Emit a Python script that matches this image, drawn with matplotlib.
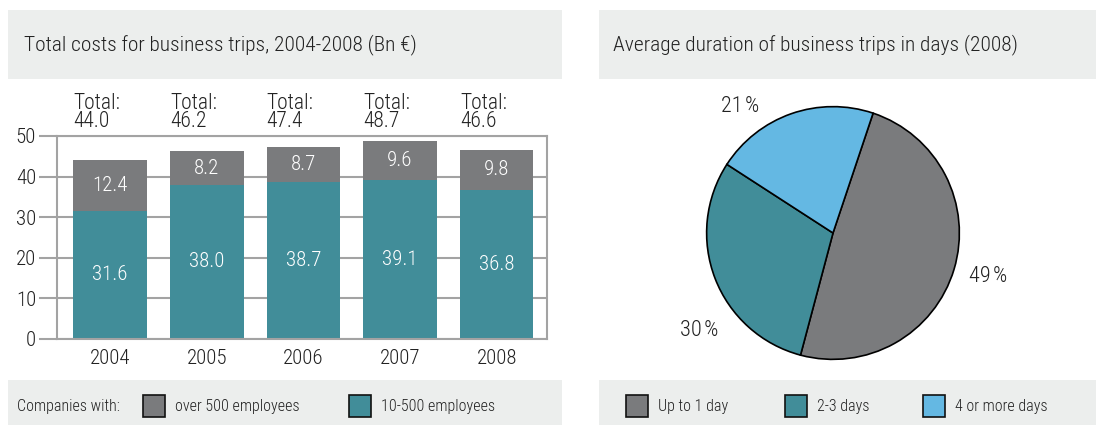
import matplotlib
matplotlib.use("Agg")
import matplotlib.pyplot as plt
from matplotlib import font_manager
from matplotlib.patches import Rectangle

# fonts: prefer a narrow sans, like the original
names = {f.name for f in font_manager.fontManager.ttflist}
for fam in ["Roboto Condensed", "Liberation Sans Narrow", "Roboto", "Liberation Sans"]:
    if fam in names:
        plt.rcParams["font.family"] = [fam, "DejaVu Sans"]
        break
plt.rcParams["font.weight"] = "light"

# data
years = ["2004", "2005", "2006", "2007", "2008"]
small_firms = [31.6, 38.0, 38.7, 39.1, 36.8]   # 10-500 employees
large_firms = [12.4, 8.2, 8.7, 9.6, 9.8]       # over 500 employees
totals = [44.0, 46.2, 47.4, 48.7, 46.6]
yticks = [0, 10, 20, 30, 40, 50]

duration_labels = ["Up to 1 day", "2-3 days", "4 or more days"]
duration_share = [49, 30, 21]

GREY = "#7a7b7d"
TEAL = "#418d99"
BLUE = "#64b8e3"
PANEL = "#eceeed"
TXT = "#222222"
GRID = "#a3a3a3"

W, H = 1096, 425
fig = plt.figure(figsize=(W / 100, H / 100), dpi=100)


def fx(px):
    return px / W


def fy(py):
    return 1 - py / H


def box(x0, y0, x1, y1, **kw):
    # rectangle in pixel coords (y from top)
    fig.patches.append(Rectangle((fx(x0), fy(y1)), fx(x1) - fx(x0), (y1 - y0) / H,
                                 transform=fig.transFigure, **kw))


# grey header and footer bands
box(8, 10, 562, 79, facecolor=PANEL, edgecolor="none")
box(599, 10, W, 79, facecolor=PANEL, edgecolor="none")
box(8, 380, 562, H, facecolor=PANEL, edgecolor="none")
box(599, 380, W, H, facecolor=PANEL, edgecolor="none")

fig.text(fx(24), fy(45), "Total costs for business trips, 2004-2008 (Bn €)",
         fontsize=15.4, color=TXT, va="center")
fig.text(fx(613), fy(45), "Average duration of business trips in days (2008)",
         fontsize=15.4, color=TXT, va="center")

# ---- stacked bars ----
ax = fig.add_axes([fx(57), fy(339), fx(547) - fx(57), (339 - 136) / H])
x = list(range(len(years)))
ax.bar(x, small_firms, width=0.76, color=TEAL, zorder=2)
ax.bar(x, large_firms, width=0.76, bottom=small_firms, color=GREY, zorder=2)
for i in x:
    ax.text(i, small_firms[i] / 2, f"{small_firms[i]:.1f}", ha="center", va="center",
            color="white", fontsize=15, zorder=3)
    ax.text(i, small_firms[i] + large_firms[i] / 2, f"{large_firms[i]:.1f}",
            ha="center", va="center", color="white", fontsize=15, zorder=3)
    ax.text(i - 0.38, 50.9, f"Total:\n{totals[i]:.1f}", ha="left", va="bottom",
            color=TXT, fontsize=15.5, linespacing=0.85)

ax.set_xlim(-0.55, 4.52)
ax.set_ylim(0, 50)
ax.set_yticks(yticks)
ax.set_yticklabels([str(t) for t in yticks])
ax.set_xticks(x)
ax.set_xticklabels(years)
ax.yaxis.grid(True, color=GRID, linewidth=1.5, zorder=1)
ax.set_axisbelow(True)
for s in ax.spines.values():
    s.set_color(GRID)
    s.set_linewidth(1.5)
ax.tick_params(axis="y", length=13, width=1.5, color=GRID, labelsize=15,
               labelcolor=TXT, pad=2)
ax.tick_params(axis="x", length=0, labelsize=15, labelcolor=TXT, pad=7)

# ---- pie ----
r = 127
pax = fig.add_axes([fx(833 - r), fy(233 + r), 2 * r / W, 2 * r / H])
pax.pie(duration_share, colors=[GREY, TEAL, BLUE], startangle=71.5,
        counterclock=False, wedgeprops=dict(edgecolor="black", linewidth=1.2))
pax.set_xlim(-1.005, 1.005)
pax.set_ylim(-1.005, 1.005)
pax.set_aspect("equal")
pie_pos = {21: (740, 106), 49: (988, 276), 30: (699, 330)}
for v in duration_share:
    px, py = pie_pos[v]
    fig.text(fx(px), fy(py), f"{v}\u200a%", fontsize=16, color=TXT,
             ha="center", va="center")

# ---- footers / legends ----
ly = 406
fig.text(fx(17), fy(ly), "Companies with:", fontsize=11.5, color=TXT, va="center")


def legend_item(x0, color, label):
    box(x0, ly - 11, x0 + 22, ly + 11, facecolor=color, edgecolor="#111111", linewidth=1.2)
    fig.text(fx(x0 + 32), fy(ly), label, fontsize=11.5, color=TXT, va="center")


legend_item(143, GREY, "over 500 employees")
legend_item(349, TEAL, "10-500 employees")
legend_item(626, GREY, duration_labels[0])
legend_item(785, TEAL, duration_labels[1])
legend_item(923, BLUE, duration_labels[2])

fig.savefig("out.png", dpi=100)
